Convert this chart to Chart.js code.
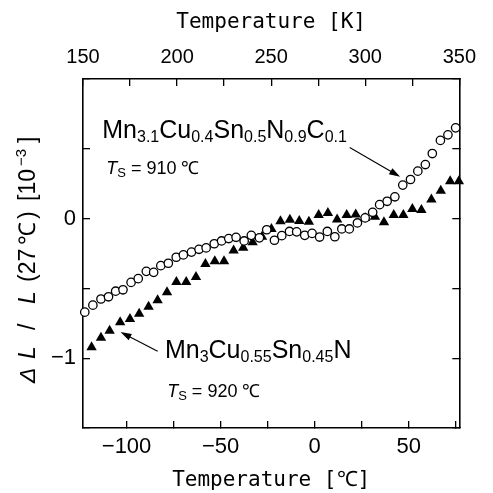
<!DOCTYPE html>
<html>
<head>
<meta charset="utf-8">
<script src="https://cdn.jsdelivr.net/npm/chart.js@4.4.1/dist/chart.umd.min.js"></script>
<style>
  html, body { margin: 0; padding: 0; background: #fff; }
  canvas { display: block; }
</style>
</head>
<body>
<canvas id="myChart" width="493" height="493"></canvas>
<script>
// Mn3.1Cu0.4Sn0.5N0.9C0.1 (open circles)
const tempA = [-122.2, -117.9, -113.6, -109.6, -105.8, -101.9, -97.6, -93.8, -89.5, -85.6,
  -81.8, -77.8, -73.6, -69.8, -65.5, -61.5, -57.7, -53.4, -49.5, -45.7,
  -41.8, -37.5, -33.7, -29.4, -25.5, -21.4, -17.5, -13.4, -9.6, -5.3,
  -1.4, 2.6, 6.7, 10.7, 14.4, 18.4, 22.7, 26.8, 30.8, 34.5,
  38.5, 42.6, 46.8, 50.9, 54.8, 58.8, 62.5, 66.8, 70.8, 74.9];
const dlA = [-0.67, -0.62, -0.576, -0.56, -0.52, -0.51, -0.457, -0.43, -0.378, -0.385,
  -0.337, -0.32, -0.277, -0.26, -0.24, -0.22, -0.21, -0.18, -0.16, -0.143,
  -0.134, -0.16, -0.12, -0.138, -0.08, -0.155, -0.122, -0.092, -0.095, -0.12,
  -0.106, -0.132, -0.092, -0.13, -0.074, -0.074, -0.031, 0.005, 0.045, 0.10,
  0.124, 0.156, 0.24, 0.28, 0.34, 0.387, 0.466, 0.56, 0.60, 0.65];

// Mn3Cu0.55Sn0.45N (filled triangles)
const tempB = [-118.6, -113.6, -109.0, -103.4, -98.2, -93.3, -88.3, -83.5, -78.5, -73.5,
  -68.3, -63.1, -58.1, -53.1, -48.2, -43.1, -38.0, -33.0, -28.0, -23.0,
  -18.2, -13.2, -8.2, -3.1, 2.1, 7.0, 11.9, 17.0, 21.8, 26.8,
  32.0, 36.8, 42.0, 47.1, 51.9, 56.7, 62.0, 67.0, 72.0, 76.6];
const dlB = [-0.922, -0.853, -0.803, -0.742, -0.720, -0.681, -0.631, -0.584, -0.527, -0.455,
  -0.455, -0.418, -0.326, -0.306, -0.306, -0.229, -0.208, -0.17, -0.13, -0.075,
  -0.019, -0.009, -0.017, -0.022, 0.025, 0.041, -0.007, 0.025, 0.029, 0.005,
  0.014, -0.027, 0.025, 0.025, 0.068, 0.061, 0.136, 0.199, 0.267, 0.267];

// ticks
const cTicks = [-100, -75, -50, -25, 0, 25, 50, 75];
const cLabels = [-100, -50, 0, 50];
const kLabels = [150, 200, 250, 300, 350];
const yLabels = [-1, 0];

const minus = v => (v < 0 ? '\u2212' + Math.abs(v) : String(v));
const tickFont = {family: 'Liberation Sans, Arial, sans-serif'};
const titleFont = {family: 'DejaVu Sans Mono, monospace', size: 21};

// annotation text: [text, size, dy, italic]
const notes = [
  {x: -112.9, y: 0.58, parts: [['Mn', 25], ['3.1', 16, 4], ['Cu', 25], ['0.4', 16, 4], ['Sn', 25], ['0.5', 16, 4],
    ['N', 25], ['0.9', 16, 4], ['C', 25], ['0.1', 16, 4]]},
  {x: -110.8, y: 0.32, parts: [['T', 18, 0, true], ['S', 13, 3], [' = 910 \u2103', 18]]},
  {x: -79.6, y: -1.0, parts: [['Mn', 25], ['3', 16, 4], ['Cu', 25], ['0.55', 16, 4], ['Sn', 25], ['0.45', 16, 4], ['N', 25]]},
  {x: -78.4, y: -1.276, parts: [['T', 18, 0, true], ['S', 13, 3], [' = 920 \u2103', 18]]}
];
const arrows = [
  {from: [18.6, 0.509], to: [45.4, 0.30]},
  {from: [-83.5, -0.951], to: [-103.2, -0.812]}
];
// y title pieces: [text, size, dy, italic, offset along the axis]
const yTitle = [['\u0394', 23, 0, true, 0], ['L', 23, 0, true, 24], ['/', 23, 0, false, 53], ['L', 23, 0, true, 79],
  ['(27', 23, 0, false, 101], ['\u2103', 23, 0, false, 138], [')', 23, 0, false, 164],
  ['[10', 23, 0, false, 182], ['\u22123', 15, -9, false, 217], [']', 23, 0, false, 240]];

function drawParts(ctx, x, y, parts) {
  for (const [t, size, dy, it] of parts) {
    ctx.font = (it ? 'italic ' : '') + size + 'px "Liberation Sans", Arial, sans-serif';
    ctx.fillText(t, x, y + (dy || 0));
    x += ctx.measureText(t).width;
  }
}

const notesPlugin = {
  id: 'notes',
  afterDraw(chart) {
    const {ctx} = chart;
    const sx = chart.scales.x, sy = chart.scales.y;
    ctx.save();
    ctx.fillStyle = '#000';
    ctx.strokeStyle = '#000';
    ctx.textBaseline = 'alphabetic';
    ctx.textAlign = 'left';
    notes.forEach(n => drawParts(ctx, sx.getPixelForValue(n.x), sy.getPixelForValue(n.y), n.parts));
    arrows.forEach(a => {
      const x1 = sx.getPixelForValue(a.from[0]), y1 = sy.getPixelForValue(a.from[1]);
      const x2 = sx.getPixelForValue(a.to[0]), y2 = sy.getPixelForValue(a.to[1]);
      const ang = Math.atan2(y2 - y1, x2 - x1);
      ctx.lineWidth = 1.1;
      ctx.beginPath();
      ctx.moveTo(x1, y1);
      ctx.lineTo(x2 - 8 * Math.cos(ang), y2 - 8 * Math.sin(ang));
      ctx.stroke();
      ctx.beginPath();
      ctx.moveTo(x2, y2);
      ctx.lineTo(x2 - 11 * Math.cos(ang) + 3.5 * Math.sin(ang), y2 - 11 * Math.sin(ang) - 3.5 * Math.cos(ang));
      ctx.lineTo(x2 - 11 * Math.cos(ang) - 3.5 * Math.sin(ang), y2 - 11 * Math.sin(ang) + 3.5 * Math.cos(ang));
      ctx.closePath();
      ctx.fill();
    });
    // y axis title, read bottom to top
    ctx.translate(35, 383);
    ctx.rotate(-Math.PI / 2);
    yTitle.forEach(([t, size, dy, it, off]) => drawParts(ctx, off, 0, [[t, size, dy, it]]));
    ctx.restore();
  }
};

const ctx = document.getElementById('myChart');

new Chart(ctx, {
  type: 'scatter',
  data: {
    datasets: [{
      label: 'Mn3.1Cu0.4Sn0.5N0.9C0.1',
      data: tempA.map((t, i) => ({x: t, y: dlA[i]})),
      pointStyle: 'circle',
      radius: 4.2,
      borderWidth: 1.3,
      borderColor: '#000',
      backgroundColor: '#fff',
      clip: false
    }, {
      label: 'Mn3Cu0.55Sn0.45N',
      data: tempB.map((t, i) => ({x: t, y: dlB[i]})),
      pointStyle: 'triangle',
      radius: 6,
      borderWidth: 0,
      borderColor: '#000',
      backgroundColor: '#000',
      clip: false
    }]
  },
  options: {
    responsive: false,
    animation: false,
    layout: {padding: 0},
    plugins: {
      legend: {display: false},
      tooltip: {enabled: false}
    },
    scales: {
      x: {
        type: 'linear',
        position: 'bottom',
        min: -123.15,
        max: 76.85,
        afterBuildTicks: s => { s.ticks = cTicks.map(v => ({value: v})); },
        afterFit: s => { s.height = 65; },
        grid: {drawOnChartArea: false, tickLength: -7, color: '#000', lineWidth: 1.3},
        border: {display: true, color: '#000', width: 1.6},
        ticks: {
          padding: 13,
          maxRotation: 0,
          autoSkip: false,
          color: '#000',
          font: {...tickFont, size: 22},
          callback: v => (cLabels.includes(v) ? minus(v) : '')
        },
        title: {display: true, text: 'Temperature [\u2103]', color: '#000', font: titleFont, padding: {top: 0, bottom: 0}}
      },
      xK: {
        type: 'linear',
        position: 'top',
        min: 150,
        max: 350,
        afterFit: s => { s.height = 79; },
        grid: {drawOnChartArea: false, tickLength: -7, color: '#000', lineWidth: 1.3},
        border: {display: true, color: '#000', width: 1.6},
        ticks: {
          stepSize: 25,
          padding: 17,
          maxRotation: 0,
          autoSkip: false,
          color: '#000',
          font: {...tickFont, size: 20},
          callback: v => (kLabels.includes(v) ? String(v) : '')
        },
        title: {display: true, text: 'Temperature [K]', color: '#000', font: titleFont, padding: {top: 10, bottom: 0}}
      },
      y: {
        type: 'linear',
        position: 'left',
        min: -1.5,
        max: 1.0,
        afterFit: s => { s.width = 83; },
        grid: {drawOnChartArea: false, tickLength: -7, color: '#000', lineWidth: 1.3},
        border: {display: true, color: '#000', width: 1.6},
        ticks: {
          stepSize: 0.5,
          padding: 14,
          autoSkip: false,
          color: '#000',
          font: {...tickFont, size: 22},
          callback: v => (yLabels.includes(v) ? minus(v) : '')
        }
      },
      y2: {
        type: 'linear',
        position: 'right',
        min: -1.5,
        max: 1.0,
        afterFit: s => { s.width = 22; },
        grid: {drawOnChartArea: false, tickLength: -7, color: '#000', lineWidth: 1.3},
        border: {display: true, color: '#000', width: 1.6},
        ticks: {stepSize: 0.5, display: false}
      }
    }
  },
  plugins: [notesPlugin]
});
</script>
</body>
</html>
